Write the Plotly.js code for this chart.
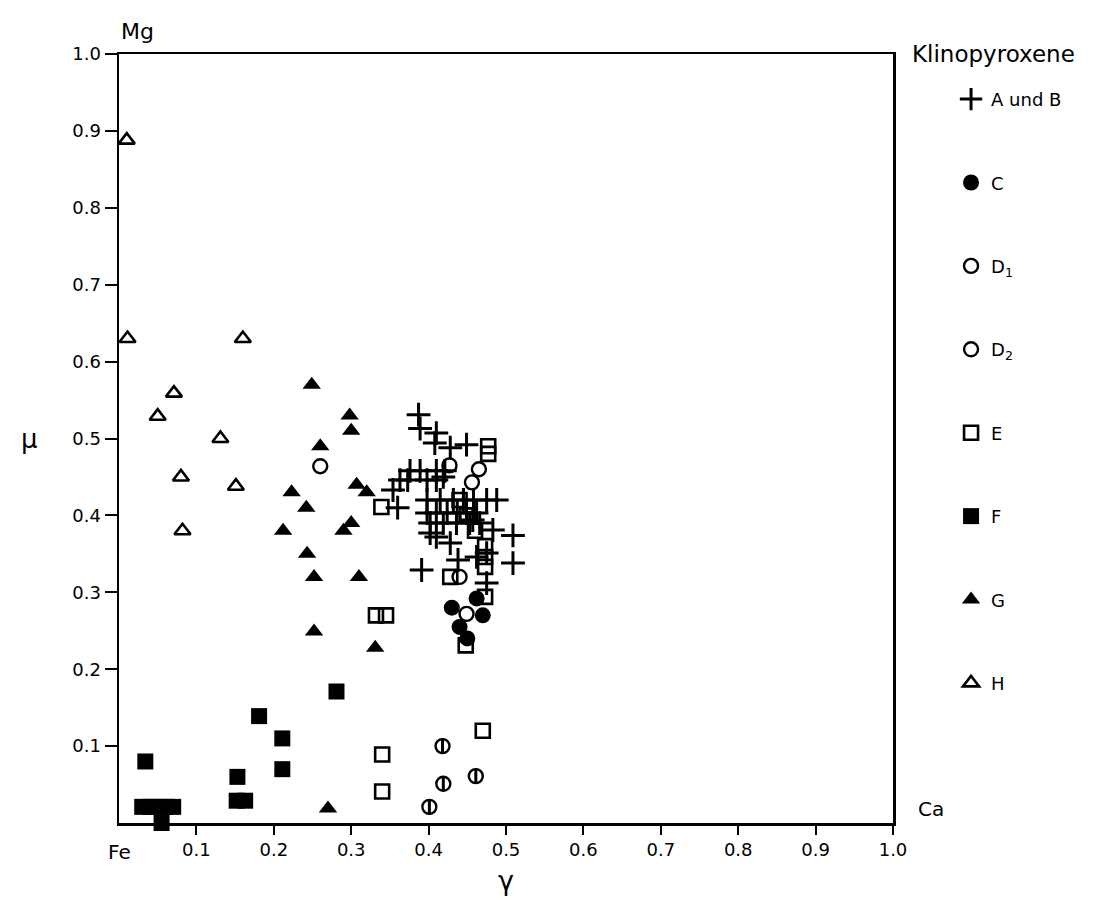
<!DOCTYPE html>
<html>
<head>
<meta charset="utf-8">
<script src="https://cdn.plot.ly/plotly-3.0.1.min.js"></script>
<style>html,body{margin:0;padding:0;background:#fff;}#chart{width:1108px;height:910px;}</style>
</head>
<body>
<div id="chart"></div>
<script>
// Klinopyroxene: gamma (Ca) on x, mu (Mg) on y
const seriesNames = ["A und B", "C", "D<sub>1</sub>", "D<sub>2</sub>", "E", "F", "G", "H"];

const AB_x = [0.387,0.389,0.410,0.408,0.428,0.449,
  0.376,0.389,0.410,0.421,
  0.363,0.373,0.398,0.410,0.419,
  0.354,0.360,
  0.398,0.415,0.432,0.445,0.458,0.475,0.488,
  0.398,0.410,0.424,0.437,0.449,0.462,
  0.402,0.419,0.436,0.453,0.466,0.483,
  0.402,0.410,0.428,0.457,
  0.509,0.509,0.391,0.438,0.462,0.475,0.475];
const AB_y = [0.531,0.513,0.507,0.494,0.488,0.492,
  0.458,0.458,0.458,0.458,
  0.446,0.446,0.446,0.446,0.450,
  0.433,0.410,
  0.420,0.420,0.420,0.420,0.420,0.420,0.420,
  0.403,0.403,0.403,0.403,0.403,0.403,
  0.390,0.390,0.390,0.390,0.390,0.381,
  0.377,0.372,0.364,0.394,
  0.374,0.338,0.329,0.342,0.346,0.351,0.312];

const C_x = [0.430,0.462,0.440,0.450,0.470];
const C_y = [0.280,0.292,0.255,0.240,0.270];

const D1_x = [0.260,0.427,0.465,0.456,0.440,0.449];
const D1_y = [0.464,0.465,0.460,0.443,0.320,0.272];

const D2_x = [0.418,0.419,0.401,0.461];
const D2_y = [0.100,0.051,0.021,0.061];

const E_x = [0.340,0.340,0.470,0.448,0.332,0.345,0.339,0.477,0.477,0.428,0.473,0.473,0.473,0.473,0.440,0.450,0.460];
const E_y = [0.089,0.041,0.120,0.231,0.270,0.270,0.411,0.490,0.480,0.320,0.360,0.346,0.333,0.294,0.420,0.400,0.380];

const F_x = [0.034,0.030,0.040,0.050,0.060,0.070,0.055,0.153,0.152,0.163,0.181,0.211,0.211,0.281];
const F_y = [0.080,0.021,0.021,0.021,0.021,0.021,0.000,0.060,0.029,0.029,0.139,0.110,0.070,0.171];

const G_x = [0.249,0.298,0.300,0.260,0.223,0.242,0.212,0.243,0.307,0.320,0.300,0.290,0.252,0.310,0.252,0.331,0.270];
const G_y = [0.570,0.530,0.510,0.490,0.430,0.410,0.380,0.350,0.440,0.430,0.390,0.380,0.320,0.320,0.249,0.228,0.019];

const H_x = [0.010,0.011,0.160,0.071,0.050,0.131,0.080,0.151,0.082];
const H_y = [0.888,0.630,0.630,0.559,0.529,0.500,0.450,0.438,0.380];

const xTickVals = [0.1,0.2,0.3,0.4,0.5,0.6,0.7,0.8,0.9,1.0];
const xTickText = ["0.1","0.2","0.3","0.4","0.5","0.6","0.7","0.8","0.9","1.0"];
const yTickVals = [0.1,0.2,0.3,0.4,0.5,0.6,0.7,0.8,0.9,1.0];
const yTickText = ["0.1","0.2","0.3","0.4","0.5","0.6","0.7","0.8","0.9","1.0"];

const K = "#000";
function tr(name, x, y, marker, group, show) {
  return {type: "scatter", mode: "markers", name: name, x: x, y: y,
          marker: marker, cliponaxis: false, legendgroup: group,
          showlegend: show !== false, hoverinfo: "x+y"};
}

const traces = [
  tr(seriesNames[0], AB_x, AB_y, {symbol: "cross-thin-open", size: 17, color: K, line: {color: K, width: 3}}, "g1"),
  tr(seriesNames[1], C_x, C_y, {symbol: "circle", size: 16, color: K, line: {width: 0}}, "g2"),
  tr(seriesNames[2], D1_x, D1_y, {symbol: "circle-open", size: 14, color: K, line: {color: K, width: 2.4}}, "g3"),
  tr(seriesNames[3], D2_x, D2_y, {symbol: "circle-open", size: 14, color: K, line: {color: K, width: 2.4}}, "g4"),
  tr(seriesNames[3], D2_x, D2_y, {symbol: "line-ns-open", size: 11, color: K, line: {color: K, width: 3}}, "g4", false),
  tr(seriesNames[4], E_x, E_y, {symbol: "square-open", size: 14, color: K, line: {color: K, width: 2.6}}, "g5"),
  tr(seriesNames[5], F_x, F_y, {symbol: "square", size: 16, color: K, line: {width: 0}}, "g6"),
  tr(seriesNames[6], G_x, G_y, {symbol: "triangle-up", size: 16, color: K, line: {width: 0}}, "g7"),
  tr(seriesNames[7], H_x, H_y, {symbol: "triangle-up-open", size: 14, color: K, line: {color: K, width: 2.6}}, "g8")
];

const FONT = "DejaVu Sans, Liberation Sans, sans-serif";
const layout = {
  width: 1108, height: 910,
  margin: {l: 119, r: 215, t: 54, b: 87, pad: 0},
  paper_bgcolor: "#fff", plot_bgcolor: "#fff",
  font: {family: FONT, size: 17, color: K},
  showlegend: true,
  legend: {x: 1.075, y: 0.965, xanchor: "left", yanchor: "top",
           tracegroupgap: 57, font: {family: FONT, size: 18, color: K},
           bgcolor: "rgba(0,0,0,0)", itemsizing: "trace"},
  xaxis: {range: [0, 1], tickvals: xTickVals, ticktext: xTickText,
          showline: true, mirror: true, linewidth: 2.5, linecolor: K,
          ticks: "outside", ticklen: 9, tickwidth: 2, tickcolor: K,
          showgrid: false, zeroline: false, fixedrange: true,
          tickfont: {family: FONT, size: 18, color: K},
          title: {text: "γ", font: {family: FONT, size: 27, color: K}, standoff: 12}},
  yaxis: {range: [0, 1], tickvals: yTickVals, ticktext: yTickText,
          showline: true, mirror: true, linewidth: 2.5, linecolor: K,
          ticks: "outside", ticklen: 12, tickwidth: 2, tickcolor: K,
          showgrid: false, zeroline: false, fixedrange: true,
          tickfont: {family: FONT, size: 18, color: K}},
  annotations: [
    {text: "Mg", xref: "paper", yref: "paper", x: 0.0, y: 1.01, xanchor: "left", yanchor: "bottom",
     showarrow: false, font: {family: FONT, size: 22, color: K}},
    {text: "Fe", xref: "paper", yref: "paper", x: 0.0, y: -0.02, xanchor: "center", yanchor: "top",
     showarrow: false, font: {family: FONT, size: 20, color: K}},
    {text: "Ca", xref: "paper", yref: "paper", x: 1.03, y: 0.0, xanchor: "left", yanchor: "bottom",
     showarrow: false, font: {family: FONT, size: 20, color: K}},
    {text: "μ", xref: "paper", yref: "paper", x: -0.115, y: 0.5, xanchor: "center", yanchor: "middle",
     showarrow: false, font: {family: FONT, size: 26, color: K}},
    {text: "Klinopyroxene", xref: "paper", yref: "paper", x: 1.022, y: 1.0, xanchor: "left", yanchor: "middle",
     showarrow: false, font: {family: FONT, size: 23, color: K}}
  ]
};

Plotly.newPlot("chart", traces, layout, {displayModeBar: false, staticPlot: true});
</script>
</body>
</html>
